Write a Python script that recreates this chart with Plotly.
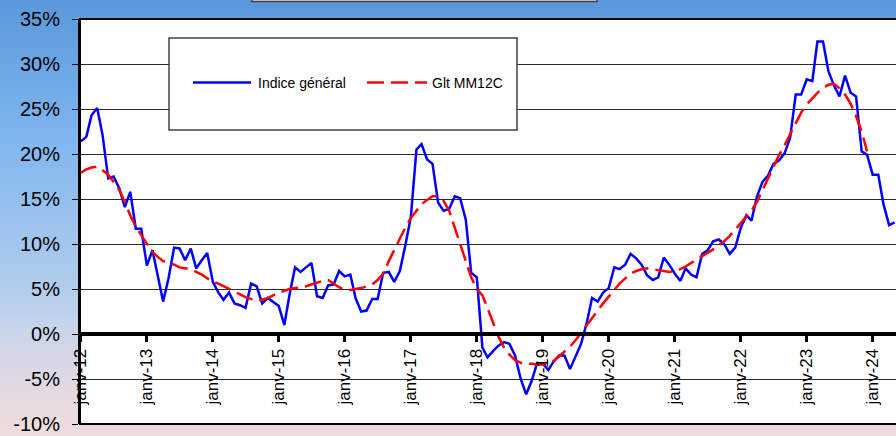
import plotly.graph_objects as go
import pandas as pd

# Monthly series, janv-12 .. mai-24 (%)
mois = pd.date_range("2012-01-01", periods=149, freq="MS")

indice_general = [
    21.4, 21.9, 24.3, 25.1, 22.1, 17.3, 17.5, 16.2, 14.1, 15.8, 11.7, 11.7,   # 2012
    7.6, 9.3, 6.6, 3.6, 6.2, 9.6, 9.5, 8.2, 9.5, 7.3, 8.2, 9.0,               # 2013
    5.8, 4.6, 3.8, 4.6, 3.4, 3.2, 2.9, 5.6, 5.3, 3.4, 4.0, 3.6,               # 2014
    3.1, 1.0, 4.3, 7.4, 6.9, 7.4, 7.9, 4.2, 4.0, 5.4, 5.5, 7.0,               # 2015
    6.4, 6.6, 4.0, 2.5, 2.6, 3.9, 3.9, 6.8, 6.9, 5.8, 7.0, 9.8,               # 2016
    13.0, 20.5, 21.1, 19.4, 18.9, 14.6, 13.7, 13.9, 15.3, 15.1, 12.7, 6.8,    # 2017
    6.3, -1.5, -2.6, -1.9, -1.3, -0.9, -1.1, -2.4, -5.0, -6.7, -5.2, -3.2,    # 2018
    -3.3, -4.0, -3.1, -2.4, -2.4, -3.9, -2.6, -1.1, 1.2, 4.0, 3.6, 4.6,       # 2019
    5.1, 7.4, 7.2, 7.7, 8.9, 8.4, 7.7, 6.5, 6.0, 6.3, 8.5, 7.7,               # 2020
    6.7, 5.9, 7.3, 6.6, 6.3, 8.9, 9.3, 10.3, 10.5, 10.0, 8.9, 9.6,            # 2021
    11.8, 13.2, 12.6, 15.3, 16.9, 17.6, 18.9, 19.3, 20.1, 21.8, 26.6, 26.6,   # 2022
    28.3, 28.1, 32.5, 32.5, 29.2, 27.6, 26.4, 28.7, 26.8, 26.4, 20.3, 19.9,   # 2023
    17.7, 17.7, 14.4, 12.1, 12.4,                                             # 2024
]

glt_mm12c = [
    17.9, 18.3, 18.5, 18.6, 18.2, 17.7, 16.9, 16.0, 14.7, 13.2, 11.9, 11.0,
    10.0, 9.1, 8.6, 8.1, 7.9, 7.7, 7.4, 7.3, 7.2, 6.9, 6.6, 6.2,
    5.8, 5.6, 5.3, 5.0, 4.7, 4.4, 4.1, 3.9, 3.7, 3.8, 4.0, 4.3,
    4.6, 4.8, 5.0, 5.1, 5.2, 5.3, 5.5, 5.7, 5.9, 6.0, 5.6, 5.2,
    4.9, 4.9, 5.0, 5.1, 5.3, 5.5, 6.0, 6.7, 8.1, 9.3, 10.7, 11.8,
    12.9, 13.7, 14.4, 14.9, 15.3, 15.3, 14.8, 13.7, 11.8, 10.0, 7.9, 6.3,
    5.0, 4.3, 2.9, 1.3, -0.3, -1.5, -2.3, -2.9, -3.2, -3.3, -3.3, -3.4,
    -3.4, -3.3, -3.0, -2.5, -2.0, -1.4, -0.7, 0.1, 0.9, 1.8, 2.6, 3.4,
    4.1, 4.9, 5.6, 6.2, 6.7, 7.0, 7.2, 7.3, 7.2, 7.1, 7.0, 6.9,
    7.0, 7.2, 7.5, 7.9, 8.2, 8.6, 9.0, 9.4, 9.9, 10.3, 10.9, 11.6,
    12.3, 13.0, 13.7, 14.7, 16.0, 17.4, 18.7, 19.9, 21.0, 22.2, 23.5, 24.6,
    25.5, 26.2, 26.8, 27.3, 27.7, 27.8, 27.3, 26.6, 25.6, 24.2, 22.5, 20.3,
]

tick_dates = [f"{a}-01-01" for a in range(2012, 2025)]
tick_labels = ["janv-12", "janv-13", "janv-14", "janv-15", "janv-16", "janv-17", "janv-18",
               "janv-19", "janv-20", "janv-21", "janv-22", "janv-23", "janv-24"]
y_ticks = [-10, -5, 0, 5, 10, 15, 20, 25, 30, 35]
y_labels = ["-10%", "-5%", "0%", "5%", "10%", "15%", "20%", "25%", "30%", "35%"]

W, H = 896, 436
L, R, T, B = 80, 896, 19, 424   # plot area in pixels


def fx(p):
    return (p - L) / (R - L)


def fy(p):
    return (B - p) / (B - T)


# background gradient stops (pixel y, rgb)
grad = [(0, (90, 152, 218)), (140, (128, 182, 240)), (285, (176, 204, 235)),
        (330, (200, 213, 235)), (380, (224, 215, 226)), (436, (240, 221, 222))]


def grad_color(y):
    for (y0, c0), (y1, c1) in zip(grad, grad[1:]):
        if y0 <= y <= y1:
            t = (y - y0) / (y1 - y0)
            return "rgb(%d,%d,%d)" % tuple(round(a + (b - a) * t) for a, b in zip(c0, c1))
    return "rgb(%d,%d,%d)" % grad[-1][1]


shapes = []
step = 4
for y in range(0, H, step):
    shapes.append(dict(type="rect", xref="paper", yref="paper", layer="below",
                       x0=fx(-5), x1=fx(W + 5), y0=fy(y + step + 0.5), y1=fy(y),
                       fillcolor=grad_color(y + step / 2), line=dict(width=0)))
# white plot area
shapes.append(dict(type="rect", xref="paper", yref="paper", layer="below",
                   x0=0, x1=1, y0=0, y1=1, fillcolor="white", line=dict(width=0)))
# bottom of the (cropped) title box
shapes.append(dict(type="rect", xref="paper", yref="paper", layer="above",
                   x0=fx(252), x1=fx(597), y0=fy(1.5), y1=fy(-8),
                   fillcolor="#e6e6e6", line=dict(color="#404040", width=1.5)))
# plot frame
shapes.append(dict(type="rect", xref="paper", yref="paper", layer="above",
                   x0=0, x1=1.02, y0=0, y1=1, line=dict(color="black", width=2)))
# legend box
shapes.append(dict(type="rect", xref="paper", yref="paper", layer="above",
                   x0=fx(169), x1=fx(517), y0=fy(130), y1=fy(38),
                   fillcolor="white", line=dict(color="#404040", width=1.5)))
shapes.append(dict(type="line", xref="paper", yref="paper", layer="above",
                   x0=fx(193), x1=fx(251), y0=fy(82.5), y1=fy(82.5),
                   line=dict(color="#0000ff", width=2.5)))
shapes.append(dict(type="line", xref="paper", yref="paper", layer="above",
                   x0=fx(367), x1=fx(427), y0=fy(82.5), y1=fy(82.5),
                   line=dict(color="#ff0000", width=2.5, dash="17px,7px")))

annotations = [
    dict(text="Indice général", xref="paper", yref="paper", x=fx(256), y=fy(82.5),
         xanchor="left", yanchor="middle", showarrow=False,
         font=dict(family="Liberation Sans, Arial", size=14, color="black")),
    dict(text="Glt MM12C", xref="paper", yref="paper", x=fx(430), y=fy(82.5),
         xanchor="left", yanchor="middle", showarrow=False,
         font=dict(family="Liberation Sans, Arial", size=14, color="black")),
]

fig = go.Figure()
fig.add_trace(go.Scatter(x=mois, y=indice_general, mode="lines", name="Indice général",
                         line=dict(color="#0000ff", width=2.5)))
fig.add_trace(go.Scatter(x=mois[:len(glt_mm12c)], y=glt_mm12c, mode="lines", name="Glt MM12C",
                         line=dict(color="#ff0000", width=2.5, dash="17px,7px")))

fig.update_layout(
    width=W, height=H,
    margin=dict(l=L, r=W - R, t=T, b=H - B, pad=0, autoexpand=False),
    paper_bgcolor="#c8d4ea",
    plot_bgcolor="white",
    showlegend=False,
    shapes=shapes,
    annotations=annotations,
    xaxis=dict(
        type="date", range=["2011-12-28", "2024-05-09"],
        anchor="free", position=10 / 45, automargin=False,
        showline=True, linecolor="black", linewidth=4,
        ticks="outside", ticklen=6, tickwidth=3, tickcolor="black",
        tickvals=tick_dates, ticktext=tick_labels, tickangle=-90,
        tickfont=dict(family="Liberation Sans, Arial", size=17, color="black"),
        showgrid=False, zeroline=False,
    ),
    yaxis=dict(
        range=[-10, 35], tickvals=y_ticks, ticktext=y_labels, automargin=False,
        showline=True, linecolor="black", linewidth=2,
        ticks="outside", ticklen=6, tickcolor="black",
        ticklabelstandoff=8,
        tickfont=dict(family="Liberation Sans, Arial", size=20, color="black"),
        showgrid=True, gridcolor="#2a2a2a", gridwidth=1, zeroline=False,
    ),
)

# the page body has a default 8px margin; remove it so the chart sits at the corner
fig.write_html("out.html", config={"displayModeBar": False},
               post_script="document.body.style.margin = '0';")
